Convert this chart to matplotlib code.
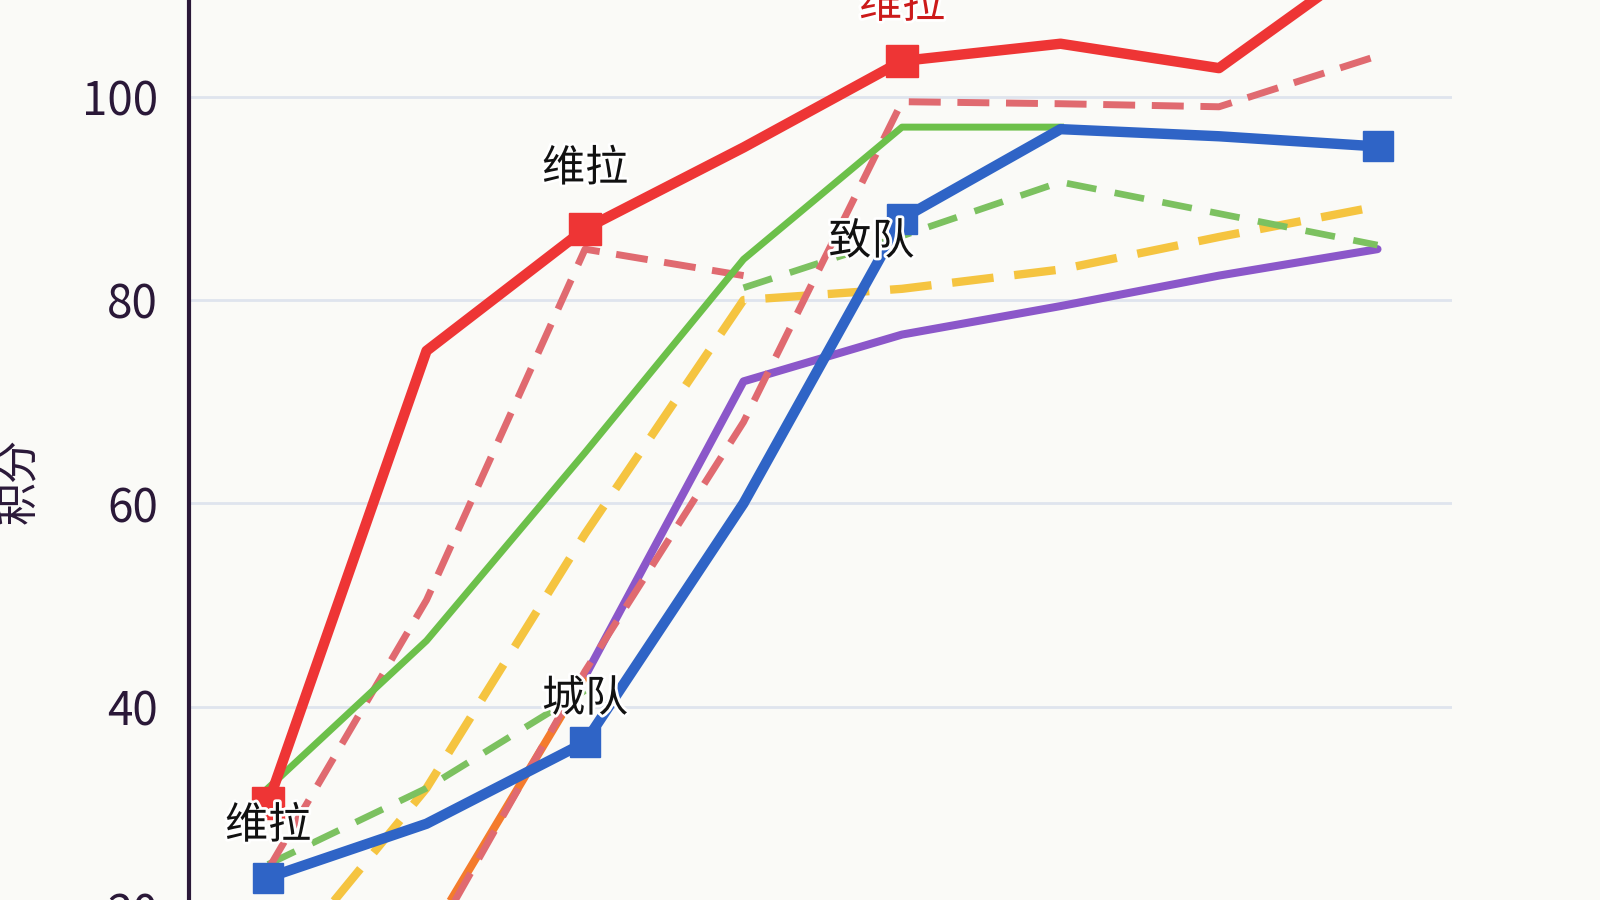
import numpy as np
import matplotlib
matplotlib.use("Agg")
import matplotlib.pyplot as plt
import matplotlib.patheffects as pe

plt.rcParams['font.family'] = ['Noto Sans CJK SC', 'DejaVu Sans']

nan = np.nan
rounds = ['第1轮', '第2轮', '第3轮', '第4轮', '第5轮', '第6轮', '第7轮', '第8轮']

villa = [30.5, 75, 87, 95, 103.5, 105.2, 102.8, 114]
villa_dash_a = [24, 50.5, 85, 82.4, nan, nan, nan, nan]
villa_dash_b = [nan, 16, 43.5, 68, 99.5, 99.3, 99.0, 104]
green_solid = [32, 46.5, 65, 84, 97, 97, nan, nan]
green_dash_a = [24.5, 32, 41.6, nan, nan, nan, nan, nan]
green_dash_b = [nan, nan, nan, 81.2, 86.3, 91.6, 88.5, 85.4]
yellow_dash = [13, 32, 57, 80, 81.1, 83, 86.2, 89.2]
blue_team = [23.2, 28.5, 36.5, 60, 88, 96.8, 96.1, 95.1]
orange_line = [2, 17, 43, nan, nan, nan, nan, nan]
purple_line = [nan, nan, 43, 72, 76.6, 79.4, 82.4, 85]

y_ticks = [20, 40, 60, 80, 100]
y_label = '积分'

x = np.arange(len(rounds))

bg = '#fafaf7'
fig = plt.figure(figsize=(16, 9), dpi=100)
fig.patch.set_facecolor(bg)
ax = fig.add_axes([0.118, -0.0678, 0.7895, 1.0678])
ax.set_facecolor(bg)

ax.set_xlim(-0.5, 7.47)
ax.set_ylim(15, 109.5)
ax.set_yticks(y_ticks)
ax.set_xticks(x, labels=[''] * len(rounds))
ax.grid(axis='y', color='#dfe4ee', linewidth=2)
ax.set_axisbelow(True)
for s in ['top', 'right', 'bottom']:
    ax.spines[s].set_visible(False)
ax.spines['left'].set_color('#2a1838')
ax.spines['left'].set_linewidth(3)
ax.tick_params(axis='both', length=0, pad=22, labelsize=33, labelcolor='#2a1838')
ax.set_ylabel(y_label, fontsize=31, color='#2a1838')
ax.yaxis.set_label_coords(-0.116, 0.5)

ax.plot(x, purple_line, color='#8b57c9', lw=5.8, solid_capstyle='round', zorder=2)
ax.plot(x, orange_line, color='#f47b2c', lw=5.8, solid_capstyle='butt', zorder=2)
ax.plot(x, yellow_dash, color='#f5c440', lw=6.0, dashes=(5.0, 2.5), zorder=2.2)
ax.plot(x, green_dash_a, color='#7cc160', lw=4.8, dashes=(4.5, 2.8), zorder=2.3)
ax.plot(x, green_dash_b, color='#7cc160', lw=4.8, dashes=(4.5, 2.8), zorder=2.3)
ax.plot(x, villa_dash_a, color='#e06a70', lw=5.0, dashes=(4.6, 2.4), zorder=2.4)
ax.plot(x, villa_dash_b, color='#e06a70', lw=5.0, dashes=(4.6, 2.4), zorder=2.4)
ax.plot(x, green_solid, color='#6cc04a', lw=5.0, zorder=2.5)
ax.plot(x, blue_team, color='#2f64c6', lw=7.5, marker='s', markersize=21,
        markevery=[0, 2, 4, 7], zorder=2.6)
ax.plot(x, villa, color='#ee3535', lw=7.5, marker='s', markersize=23,
        markevery=[0, 2, 4], zorder=2.7)

halo = [pe.withStroke(linewidth=4, foreground='white')]
lab_kw = dict(textcoords='offset points', ha='center', va='center',
              fontsize=31, zorder=5, path_effects=halo)
ax.annotate('维拉', (0, blue_team[0]), xytext=(0, 37), color='#111111', **lab_kw)
ax.annotate('维拉', (2, villa[2]), xytext=(0, 43), color='#111111', **lab_kw)
ax.annotate('维拉', (4, villa[4]), xytext=(0, 40), color='#cc1a1a', **lab_kw)
ax.annotate('城队', (2, blue_team[2]), xytext=(0, 31), color='#111111', **lab_kw)
ax.annotate('致队', (4, blue_team[4]), xytext=(-22, -17), color='#111111', **lab_kw)

fig.savefig('out.png', dpi=100, facecolor=fig.get_facecolor())
